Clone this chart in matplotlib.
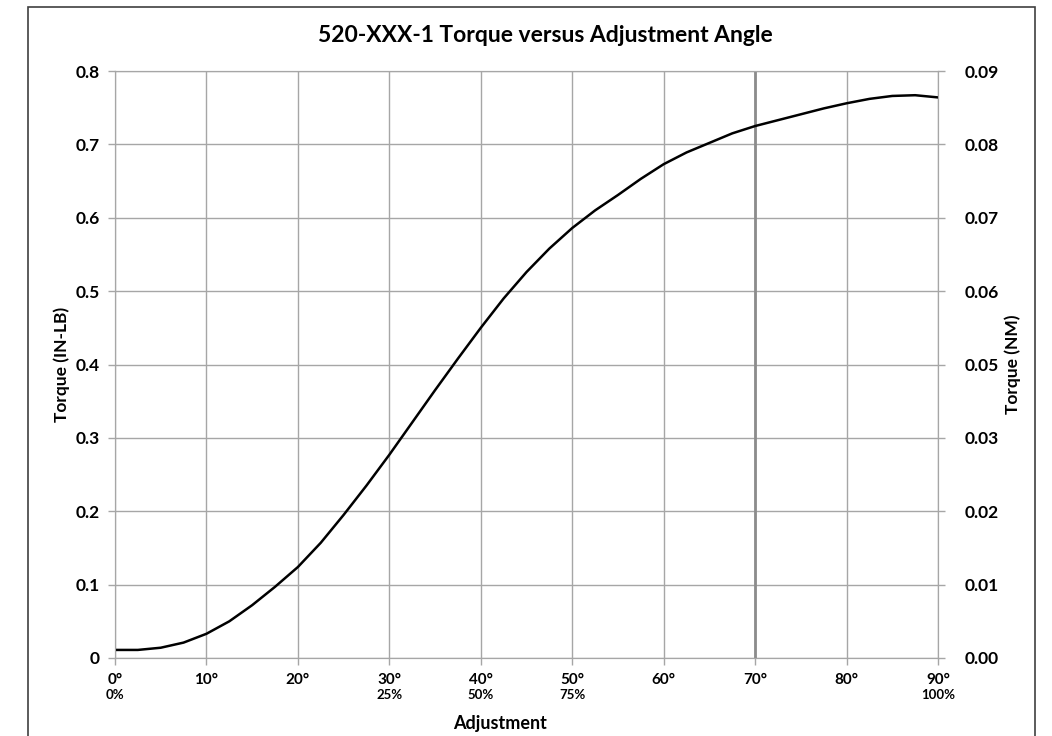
import numpy as np
import matplotlib
matplotlib.use("Agg")
import matplotlib.pyplot as plt
from matplotlib.patches import Rectangle

plt.rcParams['font.family'] = ['Lato', 'DejaVu Sans']

# data
angle = [0, 2.5, 5, 7.5, 10, 12.5, 15, 17.5, 20, 22.5, 25, 27.5, 30, 32.5, 35, 37.5, 40,
         42.5, 45, 47.5, 50, 52.5, 55, 57.5, 60, 62.5, 65, 67.5, 70, 72.5, 75, 77.5, 80,
         82.5, 85, 87.5, 90]
torque = [0.011, 0.011, 0.014, 0.021, 0.033, 0.050, 0.072, 0.097, 0.124, 0.157, 0.195,
          0.235, 0.277, 0.321, 0.365, 0.408, 0.450, 0.490, 0.526, 0.558, 0.586, 0.610,
          0.631, 0.653, 0.673, 0.689, 0.702, 0.715, 0.725, 0.733, 0.741, 0.749, 0.756,
          0.762, 0.766, 0.767, 0.764]

deg_ticks = [0, 10, 20, 30, 40, 50, 60, 70, 80, 90]
deg_labels = [f"{d}\u00b0" for d in deg_ticks]
pct_pos = [0, 30, 40, 50, 90]
pct_labels = ["0%", "25%", "50%", "75%", "100%"]
left_ticks = [0, 0.1, 0.2, 0.3, 0.4, 0.5, 0.6, 0.7, 0.8]
left_labels = ["0", "0.1", "0.2", "0.3", "0.4", "0.5", "0.6", "0.7", "0.8"]
right_labels = ["0.00", "0.01", "0.02", "0.03", "0.05", "0.06", "0.07", "0.08", "0.09"]

fig = plt.figure(figsize=(10.52, 7.36), dpi=100)
fig.patches.append(Rectangle((28 / 1052, -0.01), (1035 - 28) / 1052, 1 - 7 / 736 + 0.01,
                             transform=fig.transFigure, fill=False, edgecolor='#404040',
                             linewidth=1.2))
ax = fig.add_axes([115 / 1052, 1 - 658 / 736, (938 - 115) / 1052, (658 - 71) / 736])

grid_c = '#a6a6a6'
ax.plot(angle, torque, color='black', linewidth=1.8, zorder=3)
ax.set_xlim(0, 90)
ax.set_ylim(0, 0.8)
ax.set_xticks(deg_ticks)
ax.set_xticklabels(deg_labels, fontsize=11, fontweight='bold')
ax.set_yticks(left_ticks)
ax.set_yticklabels(left_labels, fontsize=12.5, fontweight='bold')
ax.grid(True, color=grid_c, linewidth=1)
for s in ax.spines.values():
    s.set_color(grid_c)
ax.tick_params(axis='both', color=grid_c, length=5, width=1)
ax.tick_params(axis='y', pad=6)
ax.tick_params(axis='x', pad=6)
ax.axvline(70, color='#8c8c8c', linewidth=2, zorder=2)

for p, lab in zip(pct_pos, pct_labels):
    ax.text(p, -0.042, lab, fontsize=9.5, fontweight='bold', ha='center', va='top')

ax2 = ax.twinx()
ax2.set_ylim(0, 0.8)
ax2.set_yticks(left_ticks)
ax2.set_yticklabels(right_labels, fontsize=12.5, fontweight='bold')
ax2.tick_params(axis='y', color=grid_c, length=5, width=1, pad=14)
for s in ax2.spines.values():
    s.set_color(grid_c)

ax.set_ylabel("Torque (IN-LB)", fontsize=12.5, fontweight='bold', labelpad=4)
ax2.set_ylabel("Torque (NM)", fontsize=12.5, fontweight='bold', rotation=90, labelpad=4)
fig.text(500 / 1052, 1 - 723 / 736, "Adjustment", fontsize=13, fontweight='bold',
         ha='center', va='center')
fig.text(545 / 1052, 1 - 35 / 736, "520-XXX-1 Torque versus Adjustment Angle",
         fontsize=16.5, fontweight='bold', ha='center', va='center')

fig.savefig("out.png", dpi=100)
